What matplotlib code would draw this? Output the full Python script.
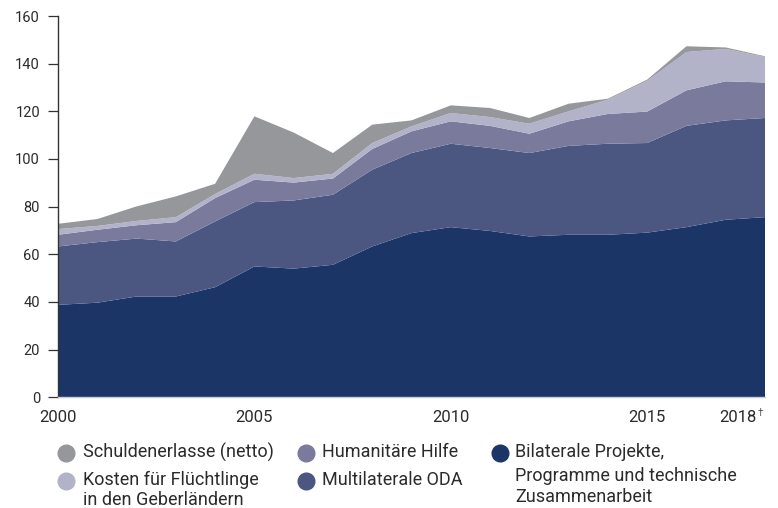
import matplotlib
matplotlib.use("Agg")
import matplotlib.pyplot as plt
from matplotlib.lines import Line2D
from matplotlib.transforms import ScaledTranslation

plt.rcParams['font.family'] = ['Roboto', 'DejaVu Sans']

years = list(range(2000, 2019))
bilateral = [38.8, 39.7, 42.3, 42.3, 46.2, 54.9, 54.0, 55.6, 63.3, 68.9, 71.4, 69.8, 67.5, 68.2, 68.2, 69.1, 71.4, 74.5, 75.6]
multilateral = [24.5, 25.4, 24.3, 23.1, 27.6, 27.0, 28.6, 29.4, 32.2, 33.6, 35.0, 34.8, 35.0, 37.3, 38.2, 37.6, 42.5, 41.7, 41.6]
humanitarian = [4.9, 5.2, 5.6, 8.1, 9.8, 9.4, 7.5, 6.8, 8.7, 9.1, 9.4, 9.3, 8.1, 10.3, 12.5, 13.2, 14.9, 16.4, 14.9]
refugees = [2.4, 1.6, 1.8, 2.1, 1.7, 2.5, 1.9, 2.0, 2.5, 2.1, 3.5, 3.7, 4.2, 4.2, 6.0, 12.9, 16.1, 13.6, 10.7]
debt = [2.2, 2.9, 6.1, 8.7, 4.3, 24.1, 19.1, 8.7, 7.7, 2.5, 3.2, 3.8, 2.4, 3.2, 0.4, 0.5, 2.4, 0.6, 0.3]

colors = {
    'bil': '#1b3566',
    'multi': '#4b5681',
    'hum': '#7a7b9c',
    'ref': '#b2b3c9',
    'debt': '#96979b',
}

xtick_pos = [2000, 2005, 2010, 2015, 2018]
xtick_labels = ['2000', '2005', '2010', '2015', '2018']
yticks = [0, 20, 40, 60, 80, 100, 120, 140, 160]

W, H = 778, 508
fig = plt.figure(figsize=(7.78, 5.08), dpi=100)
ax = fig.add_axes([58/W, 1 - 397.3/H, (765-58)/W, (397.3-16)/H])

ax.stackplot(years, bilateral, multilateral, humanitarian, refugees, debt,
             colors=[colors['bil'], colors['multi'], colors['hum'], colors['ref'], colors['debt']],
             linewidth=0)

ax.set_xlim(2000, 2018)
ax.set_ylim(0, 160)
ax.set_yticks(yticks)
ax.set_yticklabels([str(v) for v in yticks], fontsize=10.5, color='#2b2b2b')
ax.set_xticks(xtick_pos)
ax.set_xticklabels(xtick_labels, fontsize=12, color='#2b2b2b')
ax.tick_params(axis='x', length=0, pad=9)
ax.tick_params(axis='y', length=7, width=0.9, color='#333333', pad=6)
xl = ax.get_xticklabels()
xl[-1].set_horizontalalignment('right')
xl[-1].set_transform(xl[-1].get_transform() + ScaledTranslation(-9/100, 0, fig.dpi_scale_trans))
fig.text(758 / W, 1 - 413 / H, '†', fontsize=7, color='#555555', ha='left', va='center')

for s in ['top', 'right']:
    ax.spines[s].set_visible(False)
ax.spines['left'].set_color('#333333')
ax.spines['left'].set_linewidth(1.0)
ax.spines['bottom'].set_color('#c9cbd8')
ax.spines['bottom'].set_linewidth(1.0)

# Legend (manual layout)
def marker(x, y, c):
    fig.add_artist(Line2D([x / W], [1 - y / H], marker='o', markersize=12,
                          markerfacecolor=c, markeredgecolor=c, linestyle='none',
                          transform=fig.transFigure))
def label(x, y, s):
    fig.text(x / W, 1 - y / H, s, fontsize=13, color='#2b2b2b', va='center', ha='left')

marker(66, 453, colors['debt']); label(83, 452, 'Schuldenerlasse (netto)')
marker(66, 481, colors['ref']); label(83, 480, 'Kosten für Flüchtlinge')
label(83, 500, 'in den Geberländern')
marker(306, 453, colors['hum']); label(322, 452, 'Humanitäre Hilfe')
marker(306, 481, colors['multi']); label(322, 480, 'Multilaterale ODA')
marker(500, 453, colors['bil']); label(515, 452, 'Bilaterale Projekte,')
label(515, 476, 'Programme und technische')
label(515, 497, 'Zusammenarbeit')

fig.savefig('out.png', dpi=100)
